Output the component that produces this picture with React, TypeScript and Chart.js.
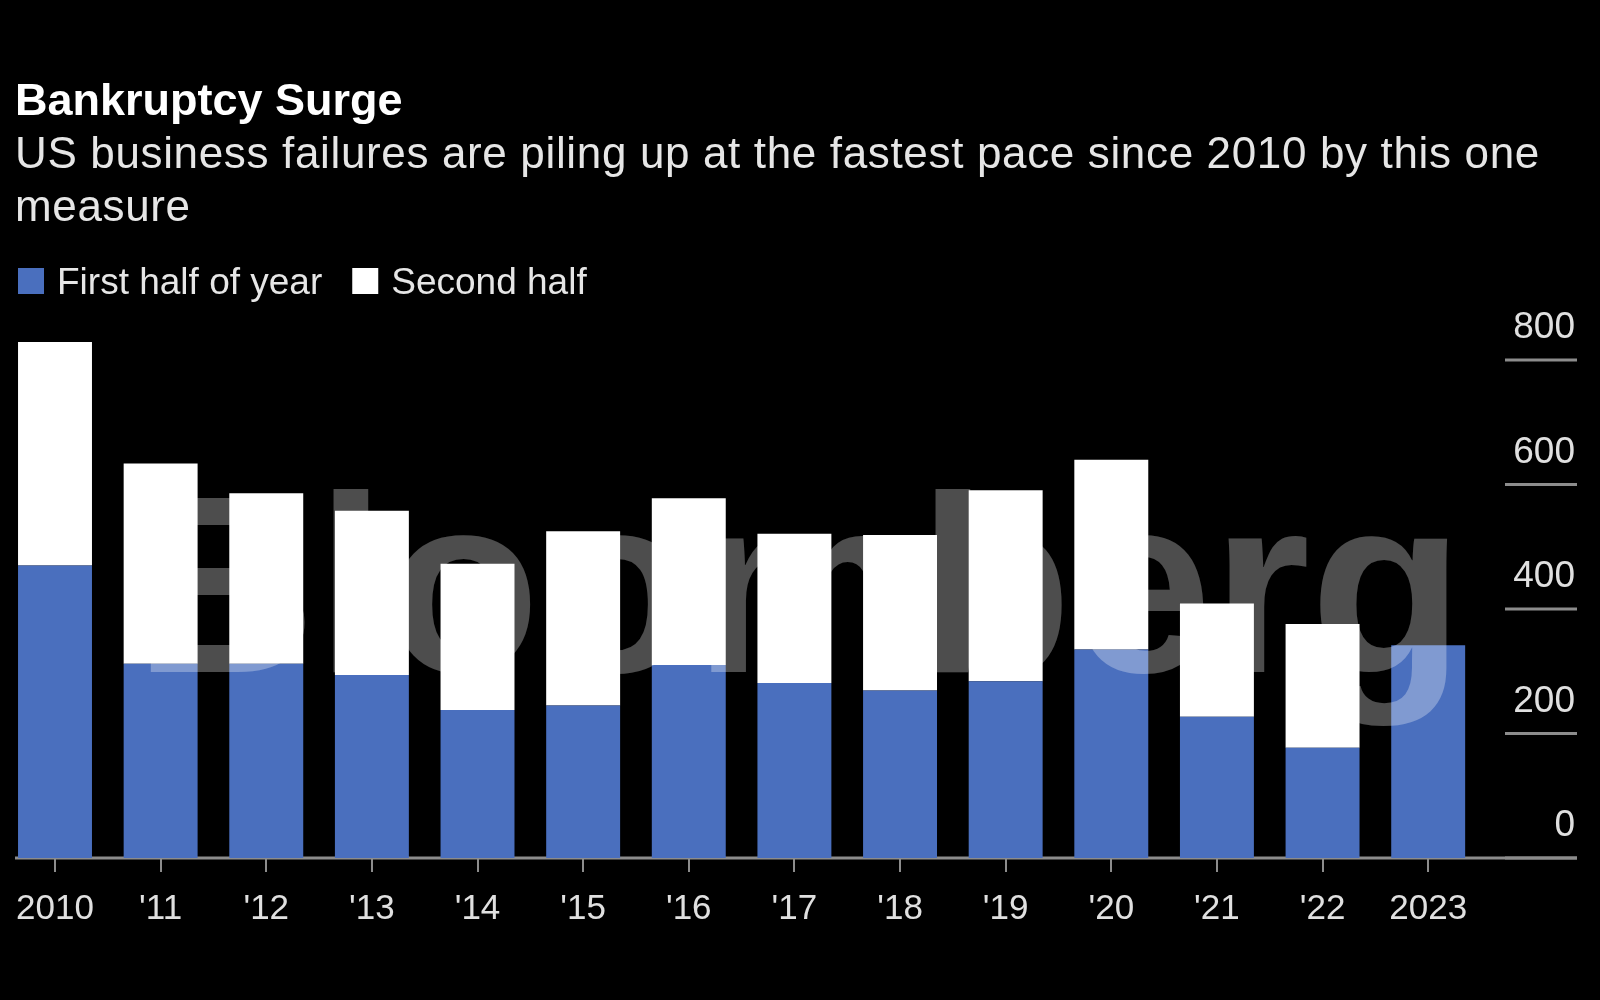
import { useEffect, useRef } from 'react';
import { Chart, registerables } from 'chart.js';

Chart.register(...registerables);

const years = ['2010', "'11", "'12", "'13", "'14", "'15", "'16", "'17", "'18", "'19", "'20", "'21", "'22", '2023'];
const firstHalf = [470, 312, 312, 294, 238, 245, 310, 281, 269, 284, 335, 227, 177, 342];
const secondHalf = [359, 322, 274, 264, 235, 280, 268, 240, 250, 307, 305, 182, 199, null];
const yTickValues = [0, 200, 400, 600, 800];
const titleText = 'Bankruptcy Surge';
const subtitleLines = ['US business failures are piling up at the fastest pace since 2010 by this one', 'measure'];
const seriesNames = ['First half of year', 'Second half'];
const seriesColors = ['#4a6fbe', '#ffffff'];
const watermarkText = 'Bloomberg';

const FONT = '"Liberation Sans", Arial, sans-serif';

const headerPlugin = {
  id: 'header',
  beforeDraw(chart: any) {
    const ctx = chart.ctx;
    ctx.save();
    ctx.fillStyle = '#000000';
    ctx.fillRect(0, 0, chart.width, chart.height);
    ctx.textBaseline = 'alphabetic';
    ctx.textAlign = 'left';
    ctx.fillStyle = '#ffffff';
    ctx.font = `bold 45px ${FONT}`;
    ctx.fillText(titleText, 15, 115);
    ctx.fillStyle = '#e6e6e6';
    ctx.font = `44px ${FONT}`;
    (ctx as any).letterSpacing = '0.65px';
    subtitleLines.forEach((line, i) => ctx.fillText(line, 15, 168 + i * 53));
    (ctx as any).letterSpacing = '0px';
    // legend
    ctx.font = `37px ${FONT}`;
    let x = 18;
    chart.data.datasets.forEach((ds: any) => {
      ctx.fillStyle = ds.backgroundColor;
      ctx.fillRect(x, 268, 26, 26);
      ctx.fillStyle = '#e6e6e6';
      ctx.fillText(ds.label, x + 39, 294);
      x += 39 + ctx.measureText(ds.label).width + 30;
    });
    ctx.restore();
  },
  beforeDatasetsDraw(chart: any) {
    const ctx = chart.ctx;
    const y0 = chart.scales.y.getPixelForValue(0);
    ctx.save();
    ctx.strokeStyle = '#8c8c8c';
    ctx.lineWidth = 3;
    ctx.beginPath();
    ctx.moveTo(15, y0);
    ctx.lineTo(1577, y0);
    ctx.stroke();
    ctx.restore();
  },
  afterDatasetsDraw(chart: any) {
    const ctx = chart.ctx;
    ctx.save();
    ctx.fillStyle = 'rgba(255,255,255,0.3)';
    ctx.font = `bold 252px ${FONT}`;
    ctx.textBaseline = 'alphabetic';
    ctx.fillText(watermarkText, 134, 672);
    ctx.restore();
  },
  afterDraw(chart: any) {
    const ctx = chart.ctx;
    const ys = chart.scales.y;
    ctx.save();
    ctx.strokeStyle = '#8c8c8c';
    ctx.lineWidth = 3;
    ys.ticks.forEach((t: any) => {
      const py = ys.getPixelForValue(t.value);
      ctx.beginPath();
      ctx.moveTo(1505, py);
      ctx.lineTo(1577, py);
      ctx.stroke();
    });
    ctx.restore();
  },
};

export default function App() {
  const ref = useRef<HTMLCanvasElement | null>(null);
  useEffect(() => {
    document.body.style.margin = '0';
    document.body.style.background = '#000';
    const chart = new Chart(ref.current as HTMLCanvasElement, {
      type: 'bar',
      data: {
        labels: years,
        datasets: [
          { label: seriesNames[0], data: firstHalf, backgroundColor: seriesColors[0], borderWidth: 0 },
          { label: seriesNames[1], data: secondHalf as any, backgroundColor: seriesColors[1], borderWidth: 0 },
        ],
      },
      options: {
        animation: false,
        responsive: false,
        maintainAspectRatio: false,
        devicePixelRatio: 1,
        layout: { padding: { top: 329, left: 2, right: 25, bottom: 54 } },
        datasets: { bar: { barPercentage: 0.7, categoryPercentage: 1.0 } },
        plugins: { legend: { display: false }, title: { display: false }, tooltip: { enabled: false } },
        scales: {
          x: {
            stacked: true,
            offset: true,
            grid: { display: true, drawOnChartArea: false, drawTicks: true, tickLength: 14, color: '#8c8c8c', lineWidth: 2, offset: false },
            border: { display: false },
            ticks: { color: '#e0e0e0', font: { size: 35, family: FONT }, padding: 16, maxRotation: 0, autoSkip: false },
          },
          y: {
            position: 'right',
            stacked: true,
            min: 0,
            max: 850,
            afterFit: (s: any) => { s.width = 94; },
            afterBuildTicks: (s: any) => { s.ticks = yTickValues.map((v) => ({ value: v })); },
            grid: { display: false, drawTicks: false },
            border: { display: false },
            ticks: { color: '#e0e0e0', font: { size: 37, family: FONT }, padding: 7, crossAlign: 'far', labelOffset: -32 },
          },
        },
      },
      plugins: [headerPlugin],
    });
    return () => chart.destroy();
  }, []);
  return <canvas ref={ref} width={1600} height={1000} style={{ display: 'block', width: 1600, height: 1000 }} />;
}
